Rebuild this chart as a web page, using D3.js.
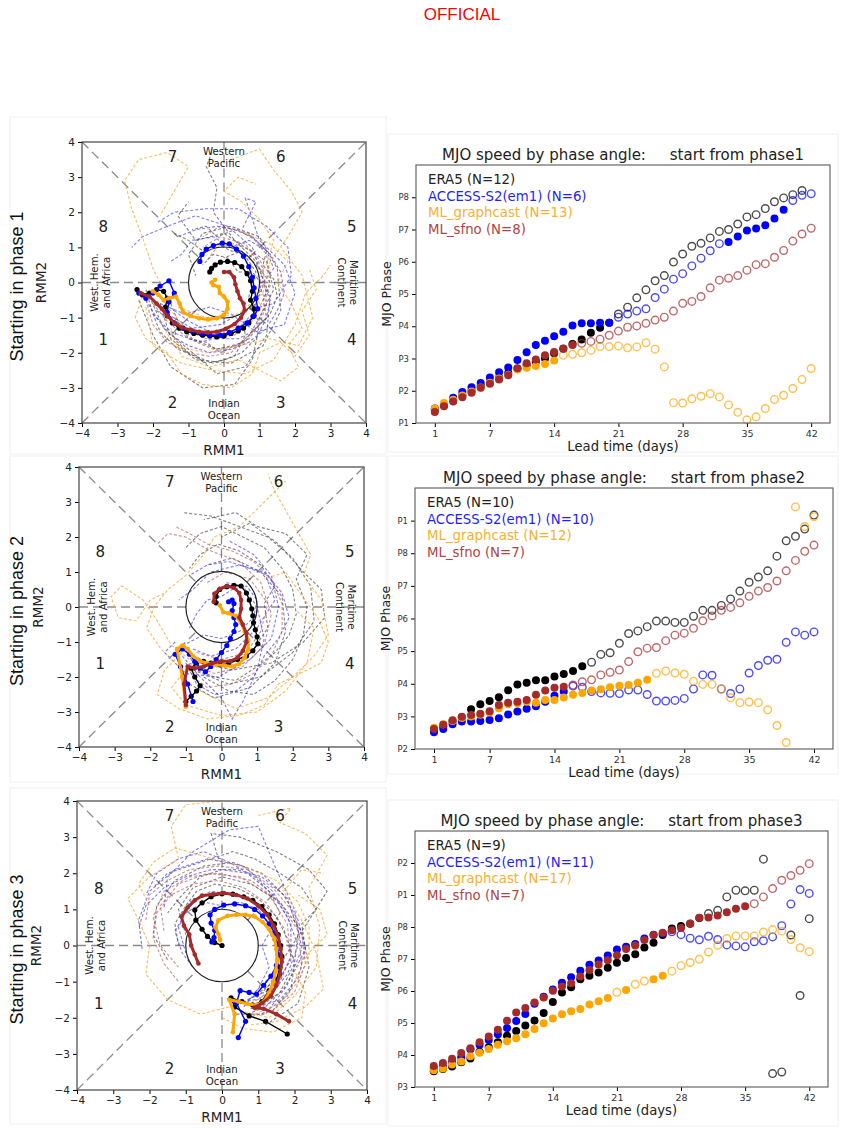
<!DOCTYPE html>
<html>
<head>
<meta charset="utf-8">
<script src="https://cdn.jsdelivr.net/npm/d3@7"></script>
<style>
  body { margin: 0; background: #fff; }
  svg { display: block; }
  text { font-family: "DejaVu Sans", sans-serif; }
</style>
</head>
<body>
<svg id="chart" width="842" height="1128"></svg>
<script>
// ---------- speed panels: MJO phase (continuous) per lead day 1..42 ----------
const xTickDays = [1, 7, 14, 21, 28, 35, 42];

const p1_era5 = [1.40,1.55,1.70,1.85,2.00,2.15,2.25,2.40,2.55,2.68,2.80,2.90,3.00,3.16,3.30,3.45,3.59,3.80,3.95,4.11,
  4.38,4.59,4.88,5.13,5.41,5.57,5.99,6.24,6.48,6.57,6.74,6.94,7.00,7.17,7.39,7.46,7.65,7.86,7.98,8.08,8.21];
const p1_access = [1.45,1.55,1.78,1.96,2.11,2.24,2.41,2.57,2.72,2.95,3.19,3.42,3.55,3.69,3.83,4.02,4.09,4.09,4.11,4.11,
  4.28,4.38,4.47,4.54,4.89,5.15,5.46,5.63,5.87,6.11,6.34,6.56,6.61,6.78,6.97,7.03,7.13,7.34,7.61,7.90,8.06,8.11];
const p1_graphcast = [1.45,1.62,1.72,1.85,1.98,2.10,2.25,2.38,2.50,2.66,2.71,2.77,2.83,2.94,3.10,3.13,3.18,3.25,3.37,3.37,
  3.39,3.33,3.36,3.49,3.29,2.74,1.63,1.62,1.75,1.83,1.91,1.81,1.56,1.33,1.10,1.19,1.45,1.73,1.86,2.07,2.35,2.69];
const p1_sfno = [1.34,1.52,1.67,1.80,1.94,2.09,2.22,2.35,2.48,2.70,2.85,2.97,3.10,3.20,3.31,3.42,3.47,3.53,3.60,3.72,
  3.85,3.97,4.01,4.09,4.19,4.28,4.47,4.71,4.77,4.92,5.19,5.43,5.49,5.57,5.74,5.91,5.94,6.14,6.35,6.64,6.86,7.04];
const p1_fill = [[[1,20]], [[1,20],[33,39]], [[1,14]], [[1,16]]];
const p1_legend = ["ERA5 (N=12)", "ACCESS-S2(em1) (N=6)", "ML_graphcast (N=13)", "ML_sfno (N=8)"];

const p2_era5 = [2.55,2.70,2.85,2.97,3.22,3.37,3.47,3.59,3.80,3.98,4.03,4.11,4.11,4.22,4.30,4.39,4.54,4.66,4.90,4.95,
  5.24,5.54,5.62,5.75,5.92,5.92,5.88,5.88,6.07,6.25,6.25,6.40,6.60,6.84,7.11,7.27,7.46,7.91,8.38,8.52,8.74,9.17];
const p2_access = [2.51,2.61,2.76,2.84,2.84,2.86,2.89,2.94,3.06,3.15,3.23,3.31,3.45,3.63,3.76,3.93,3.89,3.76,3.72,3.71,
  3.70,3.81,3.81,3.67,3.47,3.47,3.49,3.55,3.84,4.27,4.26,3.84,3.70,3.84,4.33,4.56,4.72,4.75,5.27,5.59,5.49,5.59];
const p2_graphcast = [2.65,2.76,2.86,2.95,3.00,3.05,3.12,3.25,3.37,3.40,3.45,3.42,3.50,3.50,3.58,3.66,3.72,3.79,3.83,3.89,
  3.94,3.96,4.03,4.12,4.32,4.39,4.33,4.29,4.08,3.98,3.98,3.84,3.57,3.42,3.44,3.42,3.20,2.72,2.20,9.42,8.82,9.12];
const p2_sfno = [2.61,2.74,2.88,2.99,3.04,3.08,3.16,3.35,3.42,3.45,3.50,3.66,3.79,3.88,3.91,3.96,4.06,4.12,4.27,4.35,
  4.42,4.68,4.98,5.09,5.11,5.32,5.49,5.55,5.70,5.93,6.08,6.25,6.34,6.48,6.68,6.84,6.95,7.15,7.46,7.78,8.06,8.25];
const p2_fill = [[[1,17]], [[1,15]], [[1,24]], [[1,15]]];
const p2_legend = ["ERA5 (N=10)", "ACCESS-S2(em1) (N=10)", "ML_graphcast (N=12)", "ML_sfno (N=7)"];

const p3_era5 = [3.49,3.56,3.64,3.77,3.89,4.10,4.24,4.40,4.60,4.75,4.92,5.08,5.31,5.66,5.95,6.12,6.37,6.48,6.58,6.73,
  6.88,7.03,7.15,7.36,7.51,7.75,7.95,8.03,8.10,8.28,8.42,8.52,8.94,9.15,9.13,9.15,10.12,3.42,3.47,7.75,5.86,8.26];
const p3_access = [3.59,3.64,3.77,3.93,4.18,4.32,4.47,4.65,4.84,5.06,5.28,5.60,5.82,6.05,6.26,6.43,6.63,6.82,6.95,7.11,
  7.30,7.38,7.47,7.64,7.76,7.80,7.85,7.76,7.65,7.60,7.71,7.61,7.44,7.41,7.38,7.54,7.57,7.69,8.04,8.72,9.17,9.05];
const p3_graphcast = [3.52,3.58,3.70,3.80,3.96,4.07,4.19,4.32,4.43,4.52,4.65,4.81,4.99,5.14,5.27,5.37,5.44,5.58,5.68,5.78,
  5.96,6.03,6.21,6.31,6.37,6.48,6.62,6.79,6.89,6.99,7.22,7.43,7.64,7.72,7.72,7.72,7.84,7.92,7.87,7.61,7.35,7.23];
const p3_sfno = [3.66,3.75,3.88,4.06,4.21,4.40,4.58,4.79,5.07,5.33,5.47,5.64,5.80,6.01,6.14,6.24,6.45,6.66,6.83,6.96,
  7.12,7.31,7.42,7.59,7.75,7.82,7.90,7.97,8.11,8.29,8.30,8.36,8.46,8.57,8.65,8.73,8.94,9.20,9.46,9.61,9.77,9.98];
const p3_fill = [[[1,30]], [[1,26]], [[1,20],[22,22],[25,26]], [[1,35]]];
const p3_legend = ["ERA5 (N=9)", "ACCESS-S2(em1) (N=11)", "ML_graphcast (N=17)", "ML_sfno (N=7)"];

// ---------- RMM phase diagrams: ensemble-mean tracks [RMM1, RMM2] ----------
const rmm1_era5 = [[-2.45,-0.2],[-2.3,-0.35],[-2.1,-0.3],[-1.9,-0.2],[-1.7,-0.25],[-1.6,-0.45],[-1.65,-0.7],[-1.6,-0.95],
  [-1.45,-1.15],[-1.25,-1.3],[-1.05,-1.4],[-0.85,-1.45],[-0.6,-1.5],[-0.4,-1.52],[-0.2,-1.55],[0.0,-1.52],[0.2,-1.45],
  [0.4,-1.38],[0.55,-1.3],[0.7,-1.15],[0.82,-0.97],[0.85,-0.75],[0.75,-0.5],[0.8,-0.25],[0.75,0.05],[0.65,0.25],
  [0.5,0.45],[0.3,0.57],[0.1,0.6],[-0.1,0.58],[-0.25,0.5],[-0.35,0.4],[-0.4,0.3]];
const rmm1_access = [[-2.4,-0.3],[-2.2,-0.45],[-2.0,-0.3],[-1.8,-0.1],[-1.55,0.05],[-1.4,-0.3],[-1.55,-0.55],[-1.6,-0.85],
  [-1.4,-1.15],[-1.15,-1.3],[-0.9,-1.38],[-0.65,-1.45],[-0.4,-1.5],[-0.1,-1.5],[0.15,-1.42],[0.4,-1.3],[0.65,-1.15],
  [0.85,-0.95],[0.95,-0.75],[0.9,-0.45],[0.85,-0.15],[0.8,0.15],[0.7,0.45],[0.55,0.75],[0.35,0.95],[0.15,1.1],
  [-0.05,1.12],[-0.3,1.05],[-0.5,0.95],[-0.62,0.8],[-0.68,0.6]];
const rmm1_graphcast = [[-2.0,-0.25],[-1.85,-0.35],[-1.7,-0.5],[-1.55,-0.45],[-1.35,-0.4],[-1.25,-0.6],[-1.15,-0.85],
  [-0.95,-0.95],[-0.7,-1.02],[-0.45,-1.05],[-0.2,-1.02],[0.0,-0.92],[0.1,-0.75],[0.1,-0.55],[0.0,-0.4],[-0.12,-0.3],
  [-0.15,-0.12],[-0.3,-0.08],[-0.35,0.0],[-0.25,0.08]];
const rmm1_sfno = [[-2.35,-0.3],[-2.1,-0.4],[-1.9,-0.6],[-1.75,-0.75],[-1.6,-0.95],[-1.4,-1.15],[-1.2,-1.28],[-0.95,-1.35],
  [-0.7,-1.4],[-0.45,-1.42],[-0.2,-1.4],[0.05,-1.32],[0.3,-1.18],[0.48,-1.0],[0.58,-0.8],[0.55,-0.6],[0.45,-0.45],
  [0.38,-0.25],[0.32,-0.05],[0.28,0.15],[0.15,0.3],[0.0,0.3]];

const rmm2_era5 = [[-1.0,-2.7],[-0.85,-2.55],[-0.7,-2.4],[-0.6,-2.25],[-0.75,-2.0],[-0.85,-1.75],[-0.7,-1.6],[-0.5,-1.55],
  [-0.3,-1.6],[-0.05,-1.65],[0.2,-1.62],[0.45,-1.5],[0.7,-1.4],[0.88,-1.25],[1.02,-1.05],[1.0,-0.85],[0.95,-0.65],
  [0.9,-0.45],[0.88,-0.25],[0.85,-0.05],[0.78,0.2],[0.7,0.4],[0.55,0.6],[0.35,0.62],[0.15,0.58],[-0.05,0.5],
  [-0.15,0.3],[-0.15,0.12]];
const rmm2_access = [[-0.8,-2.7],[-0.95,-2.2],[-1.15,-1.7],[-1.3,-1.35],[-1.1,-1.2],[-0.9,-1.35],[-0.75,-1.55],[-0.6,-1.75],
  [-0.45,-1.85],[-0.3,-1.7],[-0.15,-1.5],[0.0,-1.3],[0.15,-1.1],[0.25,-0.9],[0.35,-0.7],[0.4,-0.5],[0.35,-0.3],
  [0.3,-0.1],[0.35,0.1],[0.3,0.2],[0.2,0.15]];
const rmm2_graphcast = [[-1.0,-2.85],[-1.1,-2.0],[-1.25,-1.2],[-1.1,-1.1],[-0.95,-1.2],[-0.8,-1.4],[-0.6,-1.55],[-0.4,-1.6],
  [-0.15,-1.65],[0.1,-1.68],[0.3,-1.7],[0.5,-1.62],[0.65,-1.45],[0.75,-1.2],[0.75,-0.95],[0.65,-0.7],[0.55,-0.45],
  [0.4,-0.25],[0.2,-0.18],[0.05,-0.15],[-0.05,0.05]];
const rmm2_sfno = [[-1.0,-2.8],[-1.05,-2.2],[-0.95,-1.7],[-0.75,-1.75],[-0.5,-1.7],[-0.25,-1.6],[0.0,-1.55],[0.25,-1.55],
  [0.45,-1.45],[0.6,-1.25],[0.7,-1.0],[0.7,-0.75],[0.6,-0.5],[0.5,-0.3],[0.55,-0.05],[0.55,0.2],[0.5,0.4],[0.35,0.55],
  [0.15,0.6],[-0.05,0.52],[-0.2,0.38],[-0.22,0.15]];

const rmm3_era5 = [[1.8,-2.45],[1.2,-2.1],[0.75,-1.95],[0.35,-1.7],[0.25,-1.45],[0.55,-1.55],[0.85,-1.65],[1.1,-1.55],
  [1.3,-1.25],[1.5,-0.95],[1.6,-0.6],[1.65,-0.3],[1.62,0.0],[1.55,0.3],[1.45,0.6],[1.3,0.85],[1.1,1.08],[0.85,1.25],
  [0.6,1.35],[0.3,1.42],[0.0,1.43],[-0.3,1.35],[-0.55,1.18],[-0.75,0.98],[-0.72,0.7],[-0.55,0.45],[-0.4,0.25],
  [-0.2,0.08],[0.0,0.0]];
const rmm3_access = [[0.45,-2.55],[0.65,-2.1],[0.4,-1.6],[0.5,-1.25],[0.75,-1.3],[0.95,-1.35],[1.15,-1.1],[1.35,-0.85],
  [1.5,-0.55],[1.55,-0.25],[1.52,0.05],[1.45,0.35],[1.3,0.6],[1.12,0.82],[0.9,1.0],[0.65,1.1],[0.35,1.15],[0.05,1.12],
  [-0.2,1.0],[-0.33,0.85],[-0.3,0.62],[-0.2,0.42],[-0.22,0.22],[-0.28,0.1]];
const rmm3_graphcast = [[0.3,-2.4],[0.35,-1.9],[0.2,-1.5],[0.45,-1.55],[0.7,-1.62],[0.95,-1.65],[1.15,-1.55],[1.3,-1.3],
  [1.42,-1.0],[1.48,-0.7],[1.52,-0.4],[1.5,-0.1],[1.45,0.2],[1.3,0.45],[1.12,0.65],[0.9,0.8],[0.65,0.85],[0.4,0.85],
  [0.15,0.82],[-0.1,0.7],[-0.18,0.5],[-0.1,0.32],[-0.05,0.15]];
const rmm3_sfno = [[1.85,-2.1],[1.5,-1.9],[1.15,-1.75],[0.9,-1.72],[1.1,-1.6],[1.35,-1.4],[1.5,-1.1],[1.6,-0.8],
  [1.65,-0.45],[1.62,-0.1],[1.55,0.25],[1.42,0.55],[1.25,0.85],[1.0,1.1],[0.7,1.3],[0.4,1.4],[0.05,1.45],[-0.25,1.42],
  [-0.55,1.38],[-0.75,1.25],[-0.95,1.05],[-1.12,0.8],[-1.05,0.55],[-0.9,0.3],[-0.85,0.0],[-0.75,-0.25],[-0.65,-0.5]];

// ---------- individual members (dashed spaghetti) ----------
const mem1_era5 = [
  [[-1.8,-0.6],[-1.5,-1.6],[-0.8,-2.2],[0.2,-2.3],[1.1,-1.8],[1.6,-0.8],[1.5,0.4],[1.0,1.3],[0.2,1.6],[-0.6,1.4],[-1.0,0.8],[-0.8,0.2]],
  [[-2.1,-0.4],[-1.7,-1.3],[-1.0,-1.9],[-0.2,-2.6],[0.6,-2.4],[1.2,-1.5],[1.3,-0.4],[0.9,0.6],[0.3,1.2],[-0.3,2.0],[-0.2,2.7],[-0.5,3.3],[-0.3,3.8]],
  [[-1.4,-1.0],[-0.9,-1.6],[-0.2,-1.9],[0.6,-1.7],[1.0,-1.0],[1.4,-0.2],[1.2,0.6],[0.6,1.0],[0.0,1.4],[-0.8,1.2],[-1.3,1.9],[-1.0,2.3]],
  [[-2.4,-0.5],[-2.0,-1.5],[-1.5,-2.4],[-0.6,-3.0],[0.3,-2.9],[0.8,-2.2],[1.0,-1.2],[0.7,-0.4],[0.9,0.3],[0.5,0.9],[0.0,0.7]],
  [[-1.9,-0.8],[-1.6,-1.0],[-1.2,-1.2],[-1.0,-1.6],[-0.5,-1.7],[-0.1,-2.0],[0.3,-1.8],[0.7,-1.6],[1.0,-1.2],[1.3,-0.9],[1.5,-0.4],[1.4,0.1],[1.1,0.5],[1.2,0.9],[0.8,1.3],[0.3,1.5],[-0.2,1.3],[-0.5,1.6],[-0.9,1.5]],
  [[-1.5,-0.6],[-1.3,-1.1],[-1.4,-1.6],[-1.0,-2.0],[-0.5,-2.3],[0.0,-2.2],[0.5,-2.0],[0.9,-1.6],[1.2,-1.0],[1.1,-0.5],[1.3,0.0],[1.0,0.4],[0.6,0.8],[0.2,0.9],[-0.2,1.1],[-0.6,0.9],[-1.0,1.2],[-1.4,1.4]],
  [[-2.2,-0.2],[-2.0,-0.9],[-1.8,-1.4],[-1.3,-1.9],[-0.8,-2.1],[-0.3,-2.3],[0.3,-2.1],[0.6,-1.5],[0.5,-0.9],[0.9,-0.6],[1.1,-0.1],[0.8,0.3],[0.4,0.3],[0.1,0.7],[-0.3,0.8],[-0.6,0.5]]];
const mem1_access = [
  [[-2.0,-0.9],[-1.5,-1.4],[-0.7,-1.7],[0.2,-1.5],[0.8,-0.9],[1.1,0.1],[0.8,1.0],[0.1,1.6],[-0.8,1.9],[-1.6,1.6],[-2.3,1.3],[-2.6,1.0]],
  [[-1.6,-0.9],[-0.9,-1.3],[-0.1,-1.2],[0.6,-0.8],[1.4,-0.6],[1.9,0.2],[1.8,1.0],[1.2,1.6],[0.4,2.1],[-0.5,2.1],[-1.4,2.0],[-1.9,1.7]],
  [[-1.8,-0.6],[-1.1,-0.9],[-0.4,-0.7],[0.2,-0.9],[0.9,-1.4],[1.7,-1.2],[2.0,-0.3],[1.7,0.5],[1.0,1.2],[0.6,2.4],[0.9,2.3],[0.5,1.5]],
  [[-2.2,-0.5],[-1.9,-1.0],[-1.5,-1.5],[-1.0,-1.8],[-0.4,-2.0],[0.2,-1.9],[0.7,-1.7],[1.2,-1.3],[1.5,-0.8],[1.7,-0.3],[1.6,0.3],[1.3,0.8],[0.9,1.2],[0.4,1.5],[-0.2,1.6],[-0.8,1.5],[-1.3,1.3]],
  [[-1.4,-0.8],[-1.0,-1.1],[-0.6,-1.3],[-0.1,-1.6],[0.4,-1.6],[0.8,-1.4],[1.2,-1.0],[1.3,-0.5],[1.1,0.0],[1.4,0.4],[1.2,0.9],[0.7,1.2],[0.2,1.0],[-0.3,1.3],[-0.9,1.2],[-1.2,0.8],[-1.5,0.6]]];
const mem1_graphcast = [
  [[-1.6,-0.4],[-2.0,0.4],[-2.3,1.3],[-2.6,2.1],[-2.8,2.9],[-2.4,3.5],[-1.6,3.7],[-1.0,3.3],[-1.4,2.6],[-1.8,1.9]],
  [[-1.3,-0.7],[-0.5,-1.0],[0.4,-0.9],[1.1,-0.3],[1.3,0.6],[1.8,1.3],[2.2,2.0],[1.9,2.6],[1.4,3.2],[1.0,3.8],[0.2,3.5]],
  [[-2.2,-0.7],[-2.0,-1.8],[-1.2,-2.3],[-0.3,-2.5],[0.6,-2.6],[1.4,-2.2],[2.0,-1.2],[2.3,-0.3],[2.8,0.2],[3.0,0.5]],
  [[-1.8,-1.1],[-1.4,-1.8],[-0.5,-2.0],[0.4,-1.8],[1.3,-1.6],[2.1,-1.8],[2.5,-1.0],[2.2,0.2],[1.6,1.0]],
  [[-2.3,-0.4],[-2.5,-1.0],[-2.2,-1.6],[-1.6,-2.0],[-1.2,-2.6],[-0.6,-2.9],[0.2,-3.0],[0.8,-2.6],[1.0,-2.0],[1.6,-1.7],[2.0,-2.1],[2.4,-1.5],[2.2,-0.8],[2.6,-0.2],[2.4,0.4]],
  [[-1.9,-0.3],[-1.5,-0.8],[-1.0,-1.4],[-0.4,-1.5],[0.2,-1.3],[0.8,-1.1],[1.0,-0.6],[0.8,0.0],[1.2,0.5],[1.4,1.2],[1.0,1.8],[0.5,2.3],[0.0,2.6],[0.4,3.0],[0.9,2.8]],
  [[-1.5,-1.3],[-1.2,-2.1],[-0.4,-2.4],[0.4,-2.2],[1.0,-2.5],[1.6,-2.8],[2.1,-2.4],[1.8,-1.8],[2.2,-1.3],[1.9,-0.6],[1.5,0.0],[1.8,0.6],[1.3,1.1],[0.6,1.4]]];
const mem1_sfno = [
  [[-2.0,-0.6],[-1.6,-1.1],[-1.0,-1.6],[-0.3,-1.9],[0.4,-1.8],[0.9,-1.3],[1.2,-0.5],[1.1,0.4],[0.6,1.1],[-0.1,1.3],[-0.6,1.0]],
  [[-1.7,-0.8],[-1.2,-1.3],[-0.5,-1.6],[0.3,-1.5],[0.9,-0.9],[1.3,-0.1],[1.2,0.8],[0.7,1.4],[-0.1,1.6],[-0.6,1.3]],
  [[-2.2,-0.5],[-2.0,-1.2],[-1.6,-1.7],[-1.0,-2.0],[-0.4,-2.1],[0.2,-2.0],[0.6,-1.6],[1.0,-1.2],[1.2,-0.6],[1.0,-0.1],[1.1,0.5],[0.8,0.9],[0.3,1.1],[-0.2,1.0],[-0.5,0.6]]];

const mem2_era5 = [
  [[-0.8,-1.8],[0.2,-2.2],[1.1,-2.0],[2.0,-1.3],[2.6,-0.4],[2.5,0.6],[2.0,1.4],[1.3,2.0],[0.5,2.3],[-0.3,2.6],[-1.1,2.7]],
  [[-0.6,-1.6],[0.3,-1.8],[1.4,-1.6],[2.3,-1.0],[2.9,-0.3],[2.8,0.5],[2.3,1.0],[1.6,1.8],[0.8,2.4],[0.0,2.0]],
  [[-0.9,-2.2],[-0.2,-2.6],[0.8,-2.3],[1.5,-1.6],[1.8,-0.7],[1.7,0.3],[1.1,1.0],[0.3,1.4],[-0.4,1.2]],
  [[-1.0,-1.2],[-0.7,-1.8],[-0.2,-2.0],[0.4,-2.1],[1.0,-1.7],[1.5,-1.3],[1.9,-0.8],[2.1,-0.2],[2.0,0.5],[1.7,1.1],[1.2,1.7],[0.6,2.0],[0.0,2.3],[-0.6,2.1],[-1.0,1.7]],
  [[-0.5,-2.0],[0.2,-2.4],[0.9,-2.5],[1.5,-2.1],[2.0,-1.5],[2.3,-0.8],[2.4,0.0],[2.1,0.8],[2.4,1.5],[1.8,2.1],[1.0,2.3],[0.4,2.7],[-0.5,2.5]],
  [[-0.8,-1.4],[-0.3,-1.6],[0.3,-1.5],[0.9,-1.2],[1.3,-0.6],[1.2,0.1],[1.5,0.6],[1.1,1.2],[0.5,1.6],[-0.1,1.8],[-0.6,1.5],[-0.9,1.1]]];
const mem2_access = [
  [[-1.1,-1.4],[-0.6,-2.0],[0.0,-2.6],[0.3,-3.2],[0.6,-2.7],[1.0,-1.8],[1.2,-0.9],[1.0,0.0],[0.6,0.6],[0.1,0.7]],
  [[-0.8,-1.2],[-0.3,-1.4],[0.4,-1.2],[1.0,-0.6],[1.5,0.2],[1.2,1.0],[0.5,1.2],[-0.3,1.0],[-0.8,0.5],[-1.2,0.2]],
  [[-1.3,-1.0],[-1.6,-1.3],[-1.0,-1.9],[-0.1,-2.0],[0.8,-1.5],[1.4,-0.9],[1.6,0.0],[1.4,0.9],[0.9,1.5],[0.2,1.9]],
  [[-1.0,-1.6],[-0.7,-2.2],[-0.2,-2.5],[0.4,-2.4],[0.9,-2.0],[1.2,-1.4],[1.6,-0.9],[1.9,-0.3],[1.7,0.4],[1.3,0.9],[0.8,1.1],[0.2,1.3],[-0.4,1.2],[-0.9,0.9]],
  [[-1.2,-1.2],[-0.9,-1.0],[-0.5,-0.8],[0.0,-0.9],[0.5,-0.7],[0.9,-0.3],[1.0,0.2],[0.7,0.6],[0.3,0.5],[0.0,0.3],[-0.4,0.2],[-0.7,-0.2],[-0.9,-0.6]]];
const mem2_graphcast = [
  [[-0.9,-1.5],[-1.4,-1.1],[-1.8,-0.4],[-2.2,0.2],[-2.8,0.6],[-3.1,0.3],[-2.9,-0.3],[-2.4,-0.4],[-2.0,0.2],[-1.6,0.4]],
  [[-0.6,-2.4],[0.4,-2.9],[1.3,-2.6],[2.0,-2.0],[2.6,-1.4],[3.0,-0.8],[2.8,0.2],[2.3,0.9],[2.5,1.5],[2.0,2.4],[1.5,3.3],[1.3,3.8]],
  [[-1.0,-1.8],[-1.4,-2.3],[-1.0,-2.8],[0.0,-3.1],[1.0,-3.0],[1.8,-2.4],[2.4,-1.6],[2.6,-0.6],[2.1,-0.1]],
  [[-1.1,-1.3],[-1.6,-1.8],[-1.8,-2.5],[-1.2,-2.9],[-0.4,-3.2],[0.5,-3.1],[1.2,-2.8],[1.6,-2.2],[2.2,-1.9],[2.8,-1.6],[3.0,-1.0],[2.7,-0.3],[2.2,0.4],[1.8,1.0],[1.2,0.8]],
  [[-0.7,-1.9],[-1.2,-1.7],[-1.7,-1.2],[-2.1,-0.6],[-1.9,0.0],[-1.5,0.5],[-1.0,0.9],[-0.5,1.5],[-0.2,2.0],[0.5,2.3],[1.0,2.8],[1.5,3.3],[1.8,3.6]]];
const mem2_sfno = [
  [[-0.9,-1.6],[-0.2,-1.9],[0.6,-1.7],[1.2,-1.1],[1.4,-0.2],[1.1,0.7],[0.5,1.3],[-0.3,1.6],[-1.0,2.0],[-1.5,2.1],[-1.8,1.8]],
  [[-0.7,-1.3],[0.0,-1.5],[0.7,-1.3],[1.1,-0.7],[1.3,0.1],[0.8,0.8],[0.1,1.0],[-0.4,0.7]],
  [[-0.8,-2.0],[-0.4,-2.3],[0.3,-2.2],[0.9,-1.9],[1.4,-1.4],[1.7,-0.7],[1.7,0.1],[1.4,0.8],[0.9,1.3],[0.3,1.6],[-0.4,1.8],[-0.9,2.1],[-1.3,2.3]]];

const mem3_era5 = [
  [[0.9,-1.8],[1.6,-1.3],[2.0,-0.5],[2.1,0.4],[1.8,1.3],[1.1,2.0],[0.3,2.3],[-0.5,2.2],[-1.3,1.8],[-1.8,1.1],[-1.9,0.3],[-1.5,-0.4]],
  [[0.6,-1.6],[1.3,-1.1],[1.8,-0.2],[2.4,0.7],[2.9,1.5],[2.4,2.1],[1.5,2.6],[0.5,3.0],[-0.3,3.1],[-0.1,2.4]],
  [[1.2,-2.2],[2.1,-1.6],[2.4,-0.6],[2.2,0.4],[1.6,1.2],[0.8,1.7],[0.0,1.9],[-0.8,1.6],[-1.2,1.0],[-1.0,0.3]],
  [[0.7,-1.9],[1.2,-1.7],[1.7,-1.2],[2.0,-0.7],[2.3,-0.1],[2.2,0.6],[2.6,1.0],[2.2,1.6],[1.6,2.0],[0.9,2.4],[0.3,2.6],[-0.3,2.4],[-0.9,2.2],[-1.5,2.0],[-1.9,1.6]],
  [[1.4,-1.8],[1.9,-1.2],[2.0,-0.5],[1.8,0.2],[1.5,0.8],[1.0,1.3],[0.4,1.6],[-0.2,1.7],[-0.7,1.5],[-1.0,1.1],[-1.3,0.6],[-1.2,0.0]],
  [[0.3,-1.6],[0.9,-1.5],[1.4,-1.0],[1.6,-0.3],[1.3,0.4],[1.6,0.9],[1.3,1.5],[0.7,2.0],[0.0,2.1],[-0.6,1.9],[-1.1,1.4],[-1.5,0.9]]];
const mem3_access = [
  [[0.7,-1.5],[1.4,-1.2],[1.9,-0.4],[1.9,0.6],[1.4,1.5],[0.6,2.2],[-0.4,2.4],[-1.3,2.1],[-2.0,1.5],[-2.3,0.7],[-2.2,-0.1]],
  [[0.4,-1.9],[1.2,-1.9],[1.8,-1.1],[2.2,-0.1],[2.0,1.0],[1.5,2.1],[1.0,3.3],[0.2,3.2],[-0.8,2.6],[-1.5,1.9],[-1.6,1.0]],
  [[0.9,-1.3],[1.5,-0.7],[1.6,0.2],[1.2,1.0],[0.5,1.4],[-0.3,1.5],[-0.9,1.2],[-1.2,0.5],[-1.0,-0.2]],
  [[1.0,-1.7],[1.6,-1.5],[2.1,-0.9],[2.3,-0.1],[2.1,0.7],[1.7,1.4],[1.1,1.9],[0.4,2.1],[-0.3,2.1],[-1.0,1.9],[-1.6,1.6],[-2.1,1.1],[-2.3,0.5]],
  [[0.6,-1.7],[1.0,-1.2],[1.3,-0.6],[1.1,0.0],[1.4,0.5],[1.0,1.0],[0.5,1.2],[0.0,1.1],[-0.5,1.2],[-1.0,0.9],[-1.3,0.4],[-1.1,-0.2],[-0.8,-0.6]],
  [[1.3,-1.4],[1.8,-0.8],[2.1,0.0],[1.8,0.8],[1.4,1.4],[0.9,1.9],[0.2,2.3],[-0.5,2.6],[-1.2,2.4],[-1.8,2.0],[-2.1,1.4]]];
const mem3_graphcast = [
  [[0.5,-1.8],[1.3,-2.0],[2.0,-1.4],[2.6,-0.6],[2.7,0.5],[2.4,1.6],[2.9,2.5],[2.3,3.1],[1.6,3.4],[1.9,3.8],[1.0,3.6]],
  [[0.2,-1.7],[-0.6,-1.9],[-1.5,-1.5],[-2.1,-0.8],[-2.0,0.0],[-2.3,0.7],[-2.6,1.3],[-2.0,1.9],[-1.2,2.4],[-1.4,3.3],[-1.0,3.9],[0.0,4.0]],
  [[0.8,-2.2],[1.5,-2.1],[2.3,-1.7],[2.8,-1.2],[2.6,-0.2],[2.2,0.7],[1.7,1.5],[2.2,2.1],[2.8,2.0]],
  [[0.9,-1.9],[1.6,-1.6],[2.1,-1.0],[2.4,-0.3],[2.4,0.5],[2.1,1.2],[1.5,1.8],[0.8,2.1],[0.1,2.3],[-0.6,2.5],[-1.3,2.7],[-1.9,2.3],[-2.3,1.7],[-2.0,1.1]],
  [[0.0,-2.0],[0.6,-2.3],[1.4,-2.4],[2.2,-2.0],[2.3,-1.3],[2.0,-0.7],[2.4,-0.2],[2.9,0.3],[2.7,1.0],[2.1,1.4]]];
const mem3_sfno = [
  [[1.1,-1.9],[1.8,-1.4],[2.2,-0.6],[2.1,0.4],[1.6,1.2],[0.8,1.8],[-0.1,2.0],[-0.9,1.9],[-1.6,1.5],[-1.9,0.8],[-1.7,0.0],[-1.2,-0.6]],
  [[0.8,-1.6],[1.5,-1.2],[1.9,-0.3],[1.8,0.6],[1.3,1.4],[0.5,1.9],[-0.4,2.0],[-1.2,1.7],[-1.7,1.1],[-1.6,0.4]],
  [[1.0,-1.5],[1.6,-1.0],[1.9,-0.3],[1.7,0.5],[1.2,1.2],[0.6,1.6],[-0.1,1.8],[-0.8,1.7],[-1.4,1.4],[-1.8,0.9],[-1.9,0.2],[-1.6,-0.5],[-1.2,-1.0]],
  [[0.7,-2.0],[1.4,-1.8],[2.0,-1.3],[2.3,-0.5],[2.2,0.3],[1.9,1.0],[1.4,1.6],[0.7,2.1],[-0.1,2.2],[-0.9,2.1],[-1.5,1.8],[-2.0,1.4],[-2.1,0.7]]];

const rmmTicks = [-4, -3, -2, -1, 0, 1, 2, 3, 4];
const phaseNums = [["1",-3.4,-1.6],["2",-1.45,-3.4],["3",1.6,-3.4],["4",3.6,-1.6],["5",3.6,1.6],["6",1.6,3.6],["7",-1.45,3.6],["8",-3.4,1.6]];

const colors = ["black", "blue", "orange", "brown"];
const memberColors = ["#333", "#2a2aff", "#f5a020", "#b04a4a"];
const legendColors = ["#222", "#1f1fff", "#f7b030", "#b04545"];

const svg = d3.select("#chart");

svg.append("text").attr("x", 462).attr("y", 20).attr("text-anchor", "middle")
  .attr("fill", "#ff0000").style("font-family", "'Liberation Sans Narrow','Liberation Sans',sans-serif")
  .style("font-size", "17px").text("OFFICIAL");

// faint frames of the pasted figures
[[10,117,376,337],[388,134,450,318],[10,456,376,326],[388,456,450,318],[10,788,376,336],[388,800,450,326]].forEach(f => {
  svg.append("rect").attr("x", f[0]).attr("y", f[1]).attr("width", f[2]).attr("height", f[3])
    .attr("fill", "none").attr("stroke", "#f0f0f0").attr("stroke-width", 1);
});

function drawRMM(box, means, members, rowLabel) {
  const g = svg.append("g");
  const x = d3.scaleLinear().domain([-4, 4]).range([box.x0, box.x1]);
  const y = d3.scaleLinear().domain([-4, 4]).range([box.y1, box.y0]);
  const s = Math.SQRT1_2;
  const guides = [[-4,0,-1,0],[1,0,4,0],[0,-4,0,-1],[0,1,0,4],[-4,-4,-s,-s],[s,s,4,4],[-4,4,-s,s],[s,-s,4,-4]];
  g.selectAll(".guide").data(guides).join("line")
    .attr("x1", d => x(d[0])).attr("y1", d => y(d[1])).attr("x2", d => x(d[2])).attr("y2", d => y(d[3]))
    .attr("stroke", "#8a8a8a").attr("stroke-width", 1.3).attr("stroke-dasharray", "9,5");

  const line = d3.line().x(d => x(d[0])).y(d => y(d[1]));
  members.forEach((set, i) => {
    set.forEach(m => {
      g.append("path").attr("d", line(m)).attr("fill", "none")
        .attr("stroke", memberColors[i]).attr("stroke-opacity", i === 2 ? 0.7 : 0.62)
        .attr("stroke-width", 1.1).attr("stroke-dasharray", "3,2");
    });
  });

  g.append("circle").attr("cx", x(0)).attr("cy", y(0)).attr("r", x(1) - x(0))
    .attr("fill", "none").attr("stroke", "#222").attr("stroke-width", 1.2);

  means.forEach((m, i) => {
    g.append("path").attr("d", line(m)).attr("fill", "none").attr("stroke", colors[i])
      .attr("stroke-width", i >= 2 ? 3 : 1.4);
    g.selectAll(null).data(m).join("circle").attr("cx", d => x(d[0])).attr("cy", d => y(d[1]))
      .attr("r", i >= 2 ? 2.3 : 2.6).attr("fill", colors[i]);
  });

  const fmt = d => d < 0 ? "\u2212" + (-d) : d;
  g.append("g").attr("transform", `translate(0,${box.y1})`)
    .call(d3.axisBottom(x).tickValues(rmmTicks).tickSize(4).tickFormat(fmt))
    .call(a => a.selectAll("text").attr("font-size", 10.5).attr("fill", "#222"));
  g.append("g").attr("transform", `translate(${box.x0},0)`)
    .call(d3.axisLeft(y).tickValues(rmmTicks).tickSize(4).tickFormat(fmt))
    .call(a => a.selectAll("text").attr("font-size", 10.5).attr("fill", "#222"));
  g.selectAll(".domain").remove();
  g.append("rect").attr("x", box.x0).attr("y", box.y0).attr("width", box.x1 - box.x0).attr("height", box.y1 - box.y0)
    .attr("fill", "none").attr("stroke", "#444").attr("stroke-width", 1.2);

  g.selectAll(".pn").data(phaseNums).join("text")
    .attr("x", d => x(d[1])).attr("y", d => y(d[2]) + 6).attr("text-anchor", "middle")
    .attr("font-size", 15).attr("fill", "#222").text(d => d[0]);

  const small = (tx, ty, rot, lines) => {
    const t = g.append("text").attr("transform", `translate(${tx},${ty}) rotate(${rot})`)
      .attr("text-anchor", "middle").attr("font-size", 10.2).attr("fill", "#222");
    lines.forEach((l, k) => t.append("tspan").attr("x", 0).attr("dy", k === 0 ? (-(lines.length - 1) * 6 + 3.6) : 12).text(l));
  };
  small(x(0), y(3.55), 0, ["Western", "Pacific"]);
  small(x(0), y(-3.6), 0, ["Indian", "Ocean"]);
  small(x(-3.48), y(0), -90, ["West. Hem.", "and Africa"]);
  small(x(3.48), y(0), 90, ["Maritime", "Continent"]);

  g.append("text").attr("x", (box.x0 + box.x1) / 2).attr("y", box.y1 + 32).attr("text-anchor", "middle")
    .attr("font-size", 13.5).attr("fill", "#222").text("RMM1");
  g.append("text").attr("transform", `translate(${box.x0 - 36},${(box.y0 + box.y1) / 2}) rotate(-90)`)
    .attr("text-anchor", "middle").attr("font-size", 13.5).attr("fill", "#222").text("RMM2");
  g.append("text").attr("transform", `translate(23,${(box.y0 + box.y1) / 2 + 4}) rotate(-90)`)
    .attr("text-anchor", "middle").attr("font-size", 18).attr("fill", "#111")
    .style("font-family", "'Liberation Sans', Arial, sans-serif").text(rowLabel);
}

function drawSpeed(box, start, series, fills, legend, title) {
  const g = svg.append("g");
  const x = d3.scaleLinear().domain([-1.05, 44.05]).range([box.x0, box.x1]);
  const y = d3.scaleLinear().domain([start, start + 8]).range([box.y1, box.y0]);
  const yTicks = d3.range(start, start + 8);

  series.forEach((vals, i) => {
    const pts = vals.map((v, k) => {
      const day = k + 1;
      const filled = fills[i].some(r => day >= r[0] && day <= r[1]);
      return { day, v, filled };
    });
    g.selectAll(null).data(pts).join("circle")
      .attr("cx", d => x(d.day)).attr("cy", d => y(d.v)).attr("r", d => d.filled ? 4 : 3.8)
      .attr("fill", d => d.filled ? colors[i] : "none")
      .attr("stroke", colors[i]).attr("stroke-opacity", d => d.filled ? 1 : 0.7)
      .attr("stroke-width", d => d.filled ? 0 : 1.4);
  });

  g.append("g").attr("transform", `translate(0,${box.y1})`)
    .call(d3.axisBottom(x).tickValues(xTickDays).tickSize(4))
    .call(a => a.selectAll("text").attr("font-size", 9.5).attr("fill", "#333"));
  g.append("g").attr("transform", `translate(${box.x0},0)`)
    .call(d3.axisLeft(y).tickValues(yTicks).tickSize(4).tickFormat(d => "P" + (((d - 1) % 8) + 1)))
    .call(a => a.selectAll("text").attr("font-size", 8.5).attr("fill", "#333"));
  g.selectAll(".domain").remove();
  g.append("rect").attr("x", box.x0).attr("y", box.y0).attr("width", box.x1 - box.x0).attr("height", box.y1 - box.y0)
    .attr("fill", "none").attr("stroke", "#666").attr("stroke-width", 1.2);

  legend.forEach((l, i) => {
    g.append("text").attr("x", box.x0 + 12).attr("y", box.y0 + 19 + i * 16.7)
      .attr("font-size", 13.3).attr("fill", legendColors[i]).text(l);
  });

  g.append("text").attr("x", (box.x0 + box.x1) / 2).attr("y", box.y0 - 5).attr("text-anchor", "middle")
    .attr("font-size", 15).attr("fill", "#222").text(title);
  g.append("text").attr("x", (box.x0 + box.x1) / 2).attr("y", box.y1 + 28).attr("text-anchor", "middle")
    .attr("font-size", 13.2).attr("fill", "#222").text("Lead time (days)");
  g.append("text").attr("transform", `translate(${box.x0 - 25},${(box.y0 + box.y1) / 2}) rotate(-90)`)
    .attr("text-anchor", "middle").attr("font-size", 12.5).attr("fill", "#222").text("MJO Phase");
}

drawRMM({x0: 82, x1: 366, y0: 142, y1: 423},
  [rmm1_era5, rmm1_access, rmm1_graphcast, rmm1_sfno],
  [mem1_era5, mem1_access, mem1_graphcast, mem1_sfno], "Starting in phase 1");
drawRMM({x0: 79, x1: 364, y0: 467, y1: 747},
  [rmm2_era5, rmm2_access, rmm2_graphcast, rmm2_sfno],
  [mem2_era5, mem2_access, mem2_graphcast, mem2_sfno], "Starting in phase 2");
drawRMM({x0: 77, x1: 367, y0: 801, y1: 1090},
  [rmm3_era5, rmm3_access, rmm3_graphcast, rmm3_sfno],
  [mem3_era5, mem3_access, mem3_graphcast, mem3_sfno], "Starting in phase 3");

drawSpeed({x0: 416, x1: 830, y0: 165, y1: 423}, 1,
  [p1_era5, p1_access, p1_graphcast, p1_sfno], p1_fill, p1_legend,
  "MJO speed by phase angle:\u00a0\u00a0\u00a0\u00a0 start from phase1");
drawSpeed({x0: 415, x1: 833, y0: 488, y1: 749}, 2,
  [p2_era5, p2_access, p2_graphcast, p2_sfno], p2_fill, p2_legend,
  "MJO speed by phase angle:\u00a0\u00a0\u00a0\u00a0 start from phase2");
drawSpeed({x0: 415, x1: 828, y0: 831, y1: 1087}, 3,
  [p3_era5, p3_access, p3_graphcast, p3_sfno], p3_fill, p3_legend,
  "MJO speed by phase angle:\u00a0\u00a0\u00a0\u00a0 start from phase3");
</script>
</body>
</html>
